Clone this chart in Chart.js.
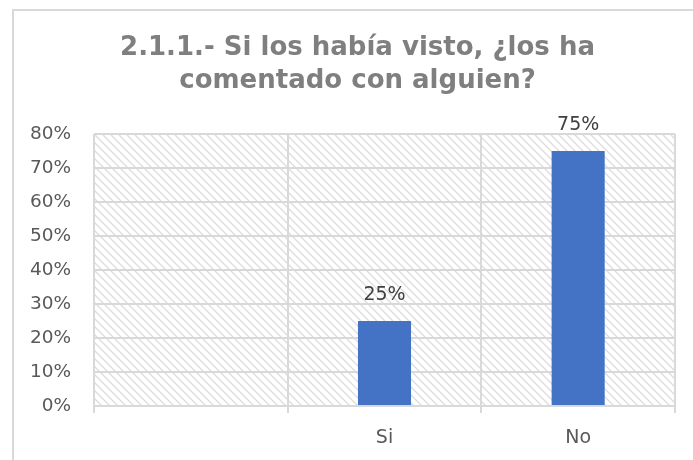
<!DOCTYPE html>
<html>
<head>
<meta charset="utf-8">
<script src="https://cdn.jsdelivr.net/npm/chart.js@4"></script>
<style>
  html, body { margin: 0; padding: 0; background: #fff; }
  #wrap { width: 693px; height: 460px; position: relative; }
</style>
</head>
<body>
<div id="wrap"><canvas id="chart1" width="693" height="460"></canvas></div>
<script>
// values
var categories = ["", "Si", "No"];
var percentages = [null, 25, 75];
var yTicks = [0, 10, 20, 30, 40, 50, 60, 70, 80];
var titleLines = ["2.1.1.- Si los había visto, ¿los ha", "comentado con alguien?"];

var FONT = "'DejaVu Sans', Verdana, sans-serif";
var GRID = "#d9d9d9";

function makeHatch() {
    var c = document.createElement("canvas");
    c.width = 8;
    c.height = 8;
    var g = c.getContext("2d");
    g.fillStyle = "#fff";
    g.fillRect(0, 0, 8, 8);
    g.strokeStyle = "#dcdcdc";
    g.lineWidth = 1.3;
    g.beginPath();
    g.moveTo(-2, -2); g.lineTo(10, 10);
    g.moveTo(-2, 6); g.lineTo(2, 10);
    g.moveTo(6, -2); g.lineTo(10, 2);
    g.stroke();
    return g.createPattern(c, "repeat");
}

// hatched plot background + the frame lines on top and left
var backdrop = {
    id: "backdrop",
    afterLayout: function(chart) {
        // the frame starts at x=12 and runs past the right edge, so centre the title on it
        if (chart.titleBlock) chart.titleBlock.left = 40;
    },
    beforeDraw: function(chart) {
        var ctx = chart.ctx, a = chart.chartArea;
        ctx.save();
        ctx.fillStyle = makeHatch();
        ctx.fillRect(a.left, a.top, a.right - a.left, a.bottom - a.top);
        ctx.fillStyle = GRID;
        ctx.fillRect(12, 9, chart.width - 12, 2);
        ctx.fillRect(12, 9, 2, chart.height - 9);
        ctx.restore();
    }
};

var barLabels = {
    id: "barLabels",
    afterDatasetsDraw: function(chart) {
        var ctx = chart.ctx;
        var meta = chart.getDatasetMeta(0);
        ctx.save();
        ctx.font = "19px " + FONT;
        ctx.fillStyle = "#404040";
        ctx.textAlign = "center";
        ctx.textBaseline = "middle";
        meta.data.forEach(function(bar, i) {
            var v = percentages[i];
            if (v === null) return;
            ctx.fillText(v + "%", bar.x, bar.y - 26);
        });
        ctx.restore();
    }
};

var ctx = document.getElementById("chart1").getContext("2d");
var chart1 = new Chart(ctx, {
    type: "bar",
    data: {
        labels: categories,
        datasets: [{
            data: percentages,
            backgroundColor: "#4472C4",
            borderWidth: 0,
            categoryPercentage: 1,
            barPercentage: 0.274
        }]
    },
    options: {
        responsive: false,
        animation: false,
        events: [],
        layout: { padding: { top: 0, right: 18, bottom: 0, left: 0 } },
        plugins: {
            legend: { display: false },
            tooltip: { enabled: false },
            title: {
                display: true,
                text: titleLines,
                color: "#7f7f7f",
                font: { family: FONT, size: 26, weight: "bold", lineHeight: 1.3 },
                padding: { top: 31, bottom: 35.4 }
            }
        },
        scales: {
            x: {
                grid: { color: GRID, lineWidth: 2, offset: true, drawTicks: true, tickLength: 7 },
                border: { color: GRID, width: 2 },
                ticks: { color: "#595959", font: { family: FONT, size: 19 }, padding: 14 },
                afterFit: function(s) { s.height = 54; }
            },
            y: {
                min: 0,
                max: 80,
                grid: { color: GRID, lineWidth: 2, drawTicks: false },
                border: { display: false },
                afterBuildTicks: function(s) {
                    s.ticks = yTicks.map(function(v) { return { value: v }; });
                },
                ticks: {
                    color: "#595959",
                    font: { family: FONT, size: 18.5 },
                    padding: 23,
                    callback: function(v) { return v + "%"; }
                },
                afterFit: function(s) { s.width = 94; }
            }
        }
    },
    plugins: [backdrop, barLabels]
});
</script>
</body>
</html>
